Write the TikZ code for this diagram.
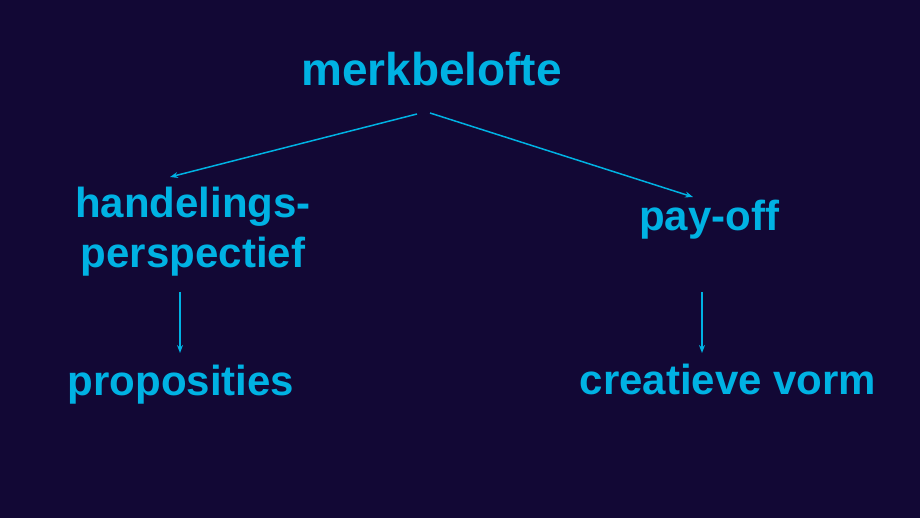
\documentclass[tikz,border=0pt]{standalone}
\usepackage{fontspec}
\setmainfont{Liberation Sans}
\usetikzlibrary{arrows.meta}
\definecolor{bgnavy}{HTML}{120835}
\definecolor{cyantext}{HTML}{00B2E3}
\begin{document}
\begin{tikzpicture}[x=1pt,y=-1pt,
  lbl/.style={text=cyantext,inner sep=0pt,anchor=base,font=\bfseries\fontsize{42}{50}\selectfont},
  toplbl/.style={lbl,font=\bfseries\fontsize{46}{54}\selectfont},
  conn/.style={draw=cyantext,line width=1.5pt,-{Stealth[length=8pt,width=6pt]}}]
\fill[bgnavy] (0,0) rectangle (920,518);
\useasboundingbox (0,0) rectangle (920,518);
\node[toplbl] (m) at (431.5,86) {merkbelofte};
\node[lbl,align=center] (h) at (193,268) {handelings-\\perspectief};
\node[lbl] (pay) at (709,231) {pay-off};
\node[lbl] (p) at (181,395) {proposities};
\node[lbl] (c) at (728,394) {creatieve vorm};
\draw[conn] ([shift={(-14.5,28)}]m.base) -- ([shift={(-23,-91)}]h.base);
\draw[conn] ([shift={(-1.5,27)}]m.base) -- ([shift={(-16,-34)}]pay.base);
\draw[conn] ([shift={(-13,24)}]h.base) -- ([shift={(-1,-42)}]p.base);
\draw[conn] ([shift={(-7,61)}]pay.base) -- ([shift={(-26,-41)}]c.base);
\end{tikzpicture}
\end{document}
